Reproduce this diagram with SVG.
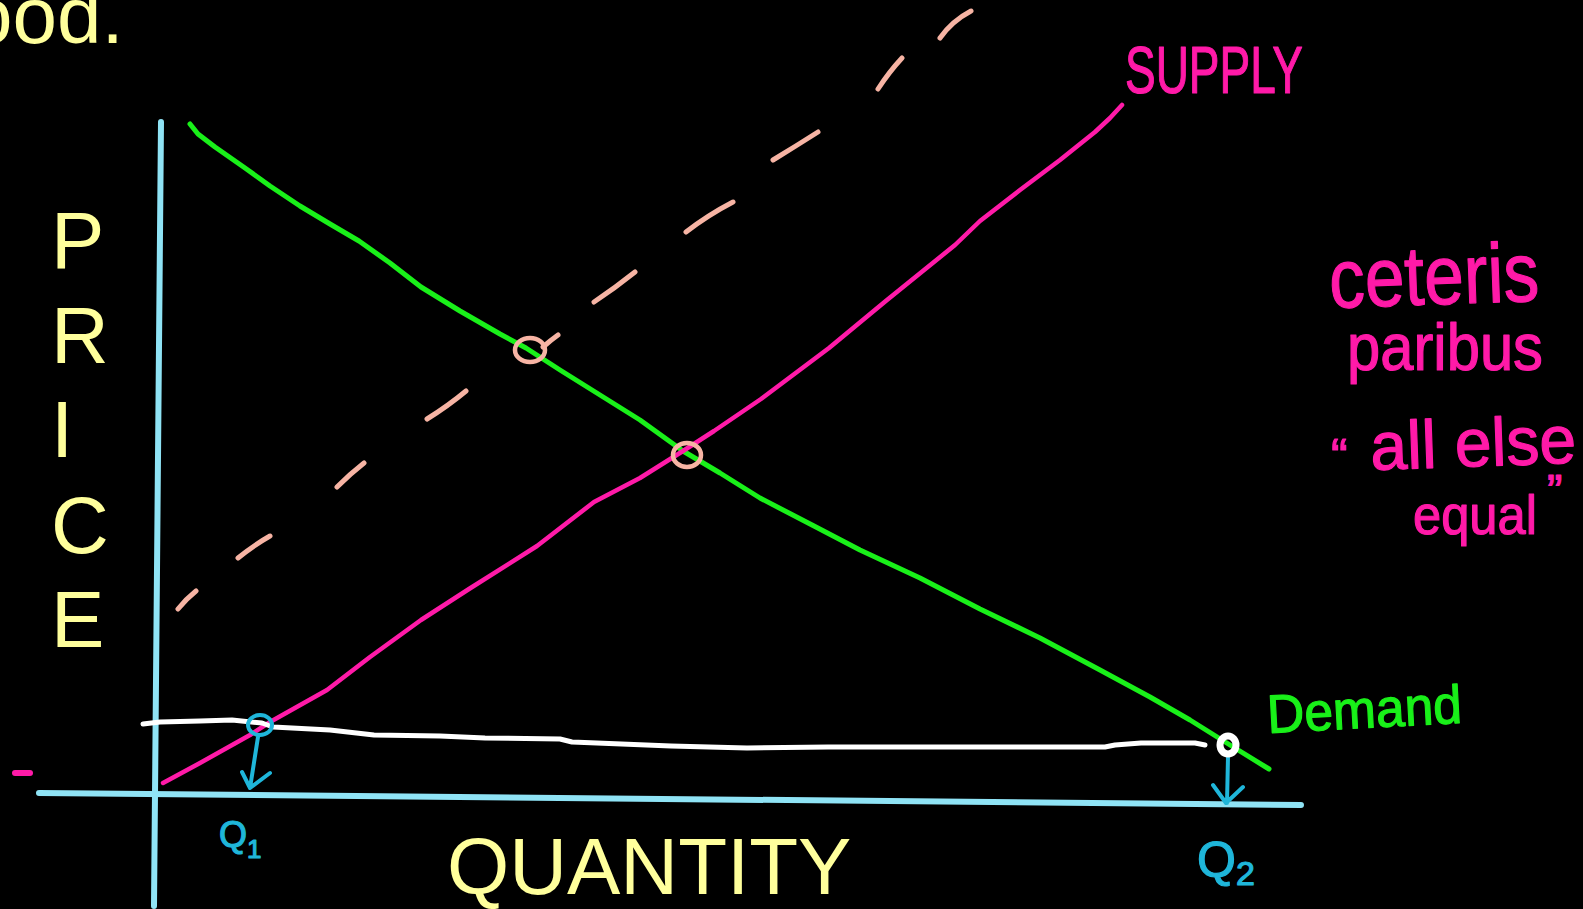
<svg xmlns="http://www.w3.org/2000/svg" width="1583" height="909" viewBox="0 0 1583 909">
<style>
.bg{fill:#000}
.axis{fill:none;stroke:#8fe3f5;stroke-width:6;stroke-linecap:round;stroke-linejoin:round}
.demand{fill:none;stroke:#19f019;stroke-width:5;stroke-linecap:round;stroke-linejoin:round}
.supply{fill:none;stroke:#ff1aa8;stroke-width:4.5;stroke-linecap:round;stroke-linejoin:round}
.dash{fill:none;stroke:#f7b4a4;stroke-width:5;stroke-linecap:round;stroke-linejoin:round}
.white{fill:none;stroke:#fff;stroke-width:5;stroke-linecap:round;stroke-linejoin:round}
.cyan{fill:none;stroke:#1fb6da;stroke-width:4;stroke-linecap:round;stroke-linejoin:round}
.title{font-family:"Liberation Sans",Arial,sans-serif;font-size:80px;fill:#ffff9c}
.hand{font-family:"Liberation Sans",Arial,sans-serif;stroke-width:1.2;stroke-linejoin:round}
.pink{fill:#ff1aa8;stroke:#ff1aa8}
.green{fill:#19f019;stroke:#19f019}
.qlab{fill:#1fb6da;stroke:#1fb6da}
</style>
<rect class="bg" x="0" y="0" width="1583" height="909"/>

<g id="top-text">
<text class="title" x="-32" y="43">ood.</text>
</g>

<g id="axes">
<path class="axis" d="M161,122 L154,906"/>
<path class="axis" d="M39,793 L1301,805"/>
</g>

<g id="axis-labels">
<text class="title" x="51" y="268">P</text>
<text class="title" x="51" y="363">R</text>
<text class="title" x="51" y="457">I</text>
<text class="title" x="51" y="553">C</text>
<text class="title" x="51" y="647">E</text>
<text class="title" x="447" y="894">QUANTITY</text>
</g>

<g id="connectors">
<path id="shifted-supply" class="dash" d="M178,609 Q186,599 196,591 M238,558 Q254,545 270,536 M337,487 Q350,474 364,463 M427,419 Q448,406 466,391 M543,347 Q551,340 558,335 M594,302 Q615,288 635,272 M686,232 Q708,215 733,202 M773,160 Q796,146 818,132 M878,89 Q889,72 902,58 M940,38 Q952,21 971,11"/>
<path id="demand-curve" class="demand" d="M190,124 L198,134 L215,147 L245,168 L270,186 L300,206 L330,224 L359,241 L390,263 L421,287 L460,311 L500,334 L526,348 L560,370 L600,395 L640,420 L683,451 L720,473 L760,498 L814,526 L860,550 L920,578 L980,609 L1040,638 L1100,670 L1150,697 L1190,720 L1230,745 L1269,769"/>
<path id="supply-curve" class="supply" d="M163,783 L200,763 L250,735 L270,722 L327,690 L370,657 L421,620 L469,589 L537,546 L594,502 L640,478 L683,451 L714,431 L761,399 L829,348 L887,300 L955,245 L980,221 L1020,190 L1060,160 L1095,132 L1110,118 L1122,105"/>
<path id="price-line" class="white" d="M143,724 L160,722 L200,721 L232,720 L262,723 L273,727 L330,730 L374,735 L440,736 L485,738 L560,739 L572,742 L671,746 L747,748 L828,747 L909,747 L1000,747 L1105,747 L1115,745 L1141,743 L1195,743 L1205,745"/>
<path id="q1-arrow" class="cyan" d="M258,737 L250,788 M242,772 L250,788 L270,773"/>
<path id="q2-arrow" class="cyan" d="M1228,757 L1227,803 M1213,785 L1226,803 L1243,787"/>
<path class="supply" d="M15,773 L30,773" style="stroke-width:6"/>
</g>

<g id="equilibrium-marks">
<ellipse cx="530" cy="350" rx="15" ry="12" fill="none" stroke="#f7b4a4" stroke-width="4.5"/>
<ellipse cx="687" cy="455" rx="14" ry="12" fill="none" stroke="#f7b4a4" stroke-width="4.5"/>
<ellipse cx="260" cy="725" rx="12" ry="10" fill="none" stroke="#1fb6da" stroke-width="4"/>
<ellipse cx="1228" cy="745" rx="8" ry="9" fill="none" stroke="#fff" stroke-width="7"/>
</g>

<g id="supply-label">
<text class="hand pink" x="1125" y="93" font-size="66" textLength="178" lengthAdjust="spacingAndGlyphs">SUPPLY</text>
</g>

<g id="demand-label">
<text class="hand green" x="1268" y="733" font-size="54" textLength="195" lengthAdjust="spacingAndGlyphs" transform="rotate(-3 1268 733)">Demand</text>
</g>

<g id="ceteris-note">
<text class="hand pink" x="1330" y="308" font-size="84" textLength="210" lengthAdjust="spacingAndGlyphs" transform="rotate(-2 1330 308)">ceteris</text>
<text class="hand pink" x="1347" y="370" font-size="66" textLength="196" lengthAdjust="spacingAndGlyphs">paribus</text>
<text class="hand pink" x="1331" y="474" font-size="50">“</text>
<text class="hand pink" x="1371" y="470" font-size="68" textLength="206" lengthAdjust="spacingAndGlyphs" transform="rotate(-2 1371 470)">all else</text>
<text class="hand pink" x="1413" y="534" font-size="56" textLength="124" lengthAdjust="spacingAndGlyphs">equal</text>
<text class="hand pink" x="1547" y="507" font-size="46">”</text>
</g>

<g id="q1-label">
<text class="hand qlab" x="219" y="847" font-size="36">Q<tspan font-size="26" dy="11">1</tspan></text>
</g>

<g id="q2-label">
<text class="hand qlab" x="1197" y="877" font-size="50">Q<tspan font-size="34" dy="8">2</tspan></text>
</g>
</svg>
